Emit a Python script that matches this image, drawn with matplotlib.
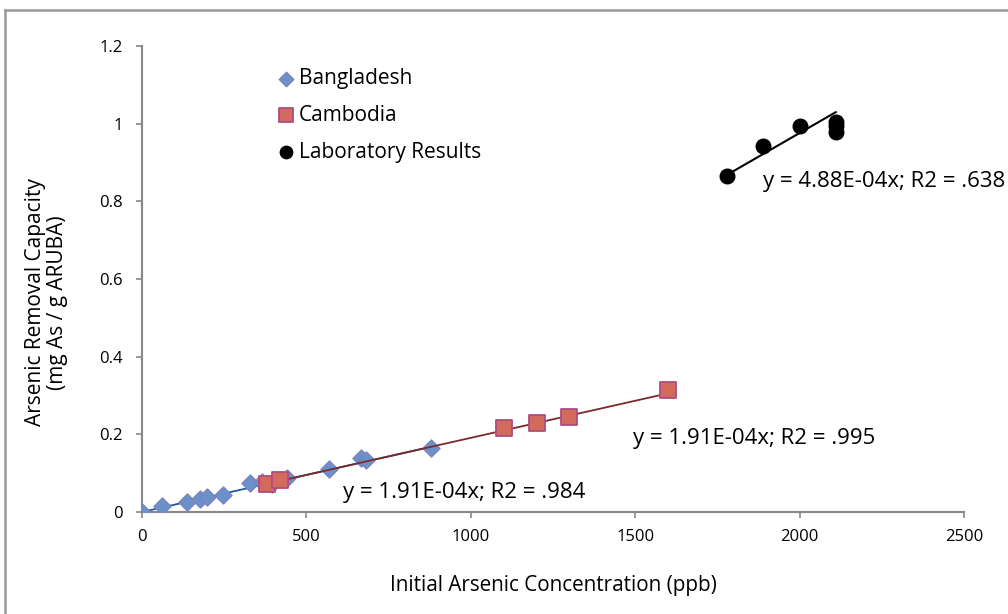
import matplotlib
matplotlib.use("Agg")
import matplotlib.pyplot as plt
from matplotlib.lines import Line2D

plt.rcParams['font.family'] = ['Open Sans', 'DejaVu Sans']

# Bangladesh field data
bang_x = [0, 61, 137, 176, 198, 246, 328, 365, 395, 440, 569, 665, 680, 879]
bang_y = [0.0, 0.015, 0.026, 0.033, 0.039, 0.044, 0.075, 0.078, 0.072, 0.087, 0.111, 0.139, 0.134, 0.165]

# Cambodia field data
camb_x = [380, 420, 1100, 1200, 1300, 1600]
camb_y = [0.072, 0.082, 0.216, 0.228, 0.245, 0.315]

# laboratory results
lab_x = [1779, 1889, 2001, 2110, 2110, 2110]
lab_y = [0.865, 0.943, 0.994, 1.005, 0.995, 0.978]

# trendline slopes (forced through zero)
slope_bang = 1.91e-4
slope_camb = 1.91e-4
slope_lab = 4.88e-4

fig = plt.figure(figsize=(10.08, 6.14), dpi=100)
ax = fig.add_axes([0.1409, 0.1661, 0.8154, 0.7589])

# trendlines
bx = [0, max(bang_x)]
ax.plot(bx, [slope_bang * v for v in bx], color='#1f5b98', lw=1.3, zorder=2)
cx = [min(camb_x), max(camb_x)]
ax.plot(cx, [slope_camb * v for v in cx], color='#7a2a2a', lw=1.3, zorder=4)
lx = [min(lab_x), max(lab_x)]
ax.plot(lx, [slope_lab * v for v in lx], color='black', lw=1.5, zorder=6)

ax.scatter(bang_x, bang_y, marker='D', s=75, color='#6a92c9', edgecolor='#7b82c0',
           linewidth=1.0, zorder=3, label='Bangladesh')
ax.scatter(camb_x, camb_y, marker='s', s=140, color='#d36a5e', edgecolor='#b04c80',
           linewidth=1.3, zorder=5, label='Cambodia')
ax.scatter(lab_x, lab_y, marker='o', s=110, color='black', zorder=7,
           label='Laboratory Results')

ax.text(1889, 0.850, 'y = 4.88E-04x; R2 = .638', fontsize=16, va='center', ha='left')
ax.text(1493, 0.1906, 'y = 1.91E-04x; R2 = .995', fontsize=16, va='center', ha='left')
ax.text(611, 0.049, 'y = 1.91E-04x; R2 = .984', fontsize=16, va='center', ha='left')

ax.set_xlim(0, 2500)
ax.set_ylim(0, 1.2)
ax.set_xticks([0, 500, 1000, 1500, 2000, 2500])
ax.set_yticks([0, 0.2, 0.4, 0.6, 0.8, 1.0, 1.2])
ax.set_yticklabels(['0', '0.2', '0.4', '0.6', '0.8', '1', '1.2'])
ax.tick_params(labelsize=12, color='#888888', length=4, width=1.2)
ax.tick_params(axis='x', pad=8)
ax.tick_params(axis='y', pad=10)
for s in ['top', 'right']:
    ax.spines[s].set_visible(False)
for s in ['left', 'bottom']:
    ax.spines[s].set_color('#888888')
    ax.spines[s].set_linewidth(1.5)

ax.set_xlabel('Initial Arsenic Concentration (ppb)', fontsize=14.9, labelpad=22)
ax.set_ylabel('Arsenic Removal Capacity\n(mg As / g ARUBA)', fontsize=15, linespacing=1.05)
ax.yaxis.set_label_coords(-0.090, 0.45)

ax.legend(loc='upper left', bbox_to_anchor=(0.140, 0.993), frameon=False, fontsize=15,
          handletextpad=0.1, labelspacing=0.76, handlelength=1.0, markerscale=0.85)

# outer chart frame (top and left edges visible)
fig.add_artist(Line2D([4.5 / 1008, 4.5 / 1008], [0, 1 - 9.5 / 614],
                      transform=fig.transFigure, color='#999999', lw=1.8))
fig.add_artist(Line2D([4.5 / 1008, 1], [1 - 9.5 / 614, 1 - 9.5 / 614],
                      transform=fig.transFigure, color='#999999', lw=1.8))

fig.savefig('out.png', dpi=100)
